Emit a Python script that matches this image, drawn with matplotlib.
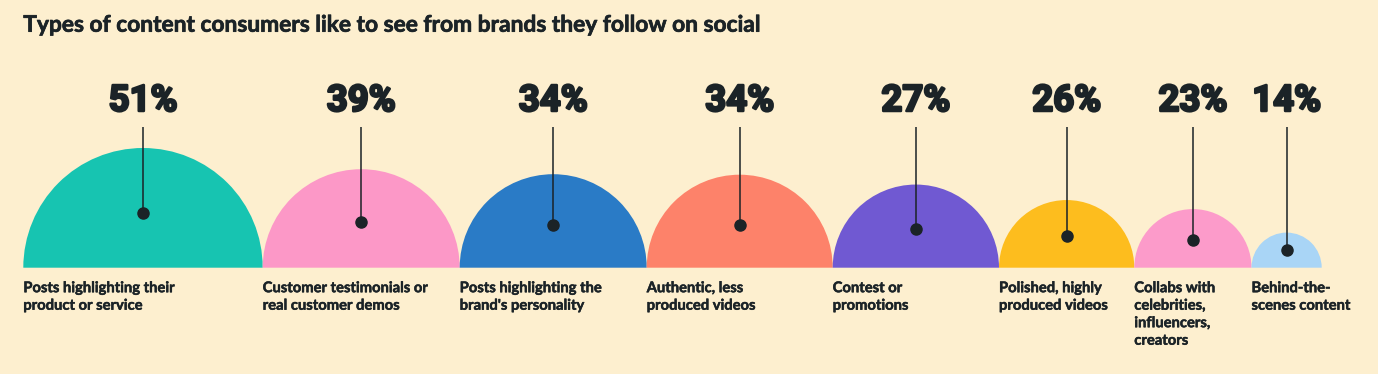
import matplotlib
matplotlib.use("Agg")
import matplotlib.pyplot as plt
from matplotlib.patches import Wedge
import matplotlib.patheffects as pe

# ---- data ----
title = "Types of content consumers like to see from brands they follow on social"
values = [51, 39, 34, 34, 27, 26, 23, 14]
categories = [
    "Posts highlighting their\nproduct or service",
    "Customer testimonials or\nreal customer demos",
    "Posts highlighting the\nbrand's personality",
    "Authentic, less\nproduced videos",
    "Contest or\npromotions",
    "Polished, highly\nproduced videos",
    "Collabs with\ncelebrities,\ninfluencers,\ncreators",
    "Behind-the-\nscenes content",
]
pct_labels = [f"{v}%" for v in values]

# ---- layout / style ----
colors = ["#17C4B1", "#FC98C7", "#2A7BC6", "#FD826A", "#7059D2", "#FDBD1E", "#FC9BCA", "#A9D5F6"]
diameters = [239.4, 197, 187, 186, 166.3, 135.3, 117.2, 70.2]
BG = "#FDEFCF"
INK = "#1B2327"
W, H = 1378, 374
left0 = 23.3
baseline = 267.7

fig = plt.figure(figsize=(W / 100, H / 100), dpi=100)
fig.patch.set_facecolor(BG)
ax = fig.add_axes([0, 0, 1, 1])
ax.set_xlim(0, W)
ax.set_ylim(H, 0)
ax.set_facecolor(BG)
ax.axis("off")

renderer = fig.canvas.get_renderer()

def fit_width(txt, target):
    bb = txt.get_window_extent(renderer=renderer)
    txt.set_fontsize(txt.get_fontsize() * target / bb.width)
    return txt.get_fontsize()

# title
t = ax.text(23.3, 31.7, title, fontsize=15, fontweight="bold", family="Lato",
            color=INK, ha="left", va="baseline",
            path_effects=[pe.withStroke(linewidth=0.5, foreground=INK)])
fit_width(t, 741)

PCT_FONT = "Roboto"
probe = ax.text(0, 0, "51%", fontsize=26, fontweight="bold", family=PCT_FONT)
pct_fs = fit_width(probe, 68.8)
probe.remove()

probe = ax.text(0, 0, "Posts highlighting their", fontsize=10, fontweight="bold", family="Lato")
lab_fs = fit_width(probe, 151.2)
probe.remove()

pct_fx = [pe.withStroke(linewidth=1.8, foreground=INK)]
lab_fx = [pe.withStroke(linewidth=0.35, foreground=INK)]

x = left0
for v, cat, pl, col, d in zip(values, categories, pct_labels, colors, diameters):
    r = d / 2
    cx = x + r
    ax.add_patch(Wedge((cx, baseline), r, 180, 360, facecolor=col, edgecolor="none"))
    dot_y = baseline - (0.44 * r + 2)
    ax.plot([cx, cx], [126.7, dot_y], color=INK, lw=1.1, solid_capstyle="butt")
    ax.plot([cx], [dot_y], "o", color=INK, markersize=8)
    ax.text(cx, 111.0, pl, fontsize=pct_fs, fontweight="bold", family=PCT_FONT,
            color=INK, ha="center", va="baseline", path_effects=pct_fx)
    for i, line in enumerate(cat.split("\n")):
        ax.text(x, 292.2 + i * 17.5, line, fontsize=lab_fs, fontweight="bold",
                family="Lato", color=INK, ha="left", va="baseline", path_effects=lab_fx)
    x += d

fig.savefig("out.png", dpi=100, facecolor=BG)
